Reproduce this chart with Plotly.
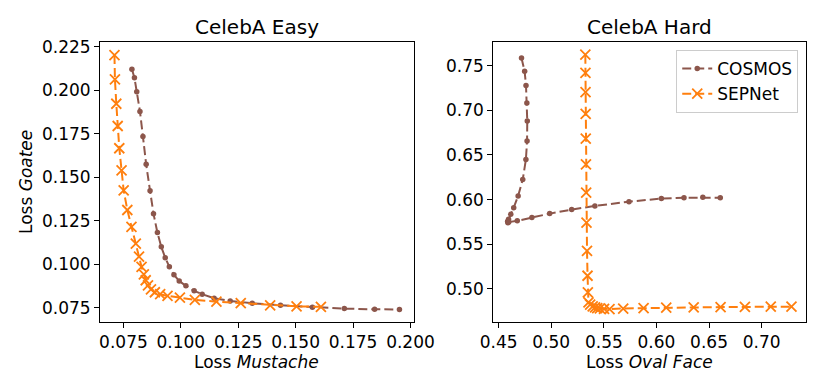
import plotly.graph_objects as go

# ---- data: CelebA Easy ----
easy_sep_x = [0.0711, 0.0713, 0.0719, 0.0725, 0.0732, 0.0742, 0.0751, 0.0767, 0.0785, 0.0804, 0.0818, 0.0829, 0.0839,
              0.0847, 0.0857, 0.0870, 0.0887, 0.0910, 0.0942, 0.0996, 0.1061, 0.1155, 0.1261, 0.1389, 0.1504, 0.1610]
easy_sep_y = [0.2202, 0.2062, 0.1922, 0.1794, 0.1666, 0.1539, 0.1424, 0.1311, 0.1214, 0.1118, 0.1043, 0.0984, 0.0941,
              0.0907, 0.0878, 0.0855, 0.0838, 0.0827, 0.0817, 0.0807, 0.0794, 0.0784, 0.0775, 0.0763, 0.0757, 0.0754]
easy_cos_x = [0.0787, 0.0798, 0.0808, 0.0822, 0.0835, 0.0849, 0.0866, 0.0881, 0.0898, 0.0915, 0.0932, 0.0950, 0.0970,
              0.0993, 0.1022, 0.1058, 0.1093, 0.1145, 0.1215, 0.1311, 0.1434, 0.1573, 0.1712, 0.1844, 0.1952]
easy_cos_y = [0.2120, 0.2072, 0.1991, 0.1878, 0.1733, 0.1574, 0.1421, 0.1290, 0.1181, 0.1099, 0.1037, 0.0984, 0.0938,
              0.0903, 0.0875, 0.0846, 0.0827, 0.0804, 0.0788, 0.0775, 0.0763, 0.0752, 0.0744, 0.0740, 0.0739]

# ---- data: CelebA Hard ----
hard_cos_x = [0.4717, 0.4747, 0.4760, 0.4768, 0.4772, 0.4770, 0.4759, 0.4729, 0.4685, 0.4643, 0.4615, 0.4594, 0.4585,
              0.4588, 0.4596, 0.4677, 0.4816, 0.4985, 0.5194, 0.5415, 0.5739, 0.6047, 0.6262, 0.6441, 0.6607]
hard_cos_y = [0.7586, 0.7437, 0.7277, 0.7083, 0.6879, 0.6655, 0.6450, 0.6226, 0.6041, 0.5910, 0.5835, 0.5780, 0.5754,
              0.5742, 0.5748, 0.5762, 0.5799, 0.5843, 0.5888, 0.5929, 0.5977, 0.6011, 0.6022, 0.6025, 0.6022]
hard_sep_x = [0.5324, 0.5325, 0.5326, 0.5327, 0.5328, 0.5330, 0.5332, 0.5335, 0.5340, 0.5345, 0.5348, 0.5354, 0.5370,
              0.5394, 0.5416, 0.5437, 0.5462, 0.5502, 0.5554, 0.5684, 0.5878, 0.6093, 0.6354, 0.6610, 0.6841, 0.7087, 0.7284]
hard_sep_y = [0.7623, 0.7418, 0.7203, 0.6960, 0.6684, 0.6394, 0.6078, 0.5743, 0.5426, 0.5147, 0.4960, 0.4849, 0.4823,
              0.4804, 0.4793, 0.4785, 0.4782, 0.4776, 0.4774, 0.4780, 0.4785, 0.4790, 0.4793, 0.4796, 0.4798, 0.4800, 0.4800]

titles = ["CelebA Easy", "CelebA Hard"]
series_names = ["COSMOS", "SEPNet"]

BROWN = "#8c564b"
ORANGE = "#ff7f0e"
FONT = "DejaVu Sans"
DASH = "9px,4px"

fig = go.Figure()


def cos_trace(x, y, xa, ya, show):
    return go.Scatter(x=x, y=y, xaxis=xa, yaxis=ya, mode="lines+markers", name=series_names[0],
                      showlegend=show, legendrank=1,
                      line=dict(color=BROWN, width=2, dash=DASH),
                      marker=dict(symbol="circle", size=5.5, color=BROWN))


def sep_trace(x, y, xa, ya, show):
    return go.Scatter(x=x, y=y, xaxis=xa, yaxis=ya, mode="lines+markers", name=series_names[1],
                      showlegend=show, legendrank=2,
                      line=dict(color=ORANGE, width=2, dash=DASH),
                      marker=dict(symbol="x-thin", size=10, color=ORANGE, line=dict(width=1.8, color=ORANGE)))


fig.add_trace(cos_trace(easy_cos_x, easy_cos_y, "x", "y", False))
fig.add_trace(sep_trace(easy_sep_x, easy_sep_y, "x", "y", False))
fig.add_trace(cos_trace(hard_cos_x, hard_cos_y, "x2", "y2", True))
fig.add_trace(sep_trace(hard_sep_x, hard_sep_y, "x2", "y2", True))

axis_common = dict(showgrid=False, zeroline=False, showline=True, mirror=True, linecolor="black", linewidth=1,
                   ticks="outside", ticklen=5, tickwidth=1, tickcolor="black",
                   tickfont=dict(family=FONT, size=17, color="black"))

W, H = 830, 375
ml, mr, mt, mb = 92, 11, 34, 61
pw = W - ml - mr

fig.update_layout(
    width=W, height=H,
    margin=dict(l=ml, r=mr, t=mt, b=mb),
    paper_bgcolor="white", plot_bgcolor="white",
    font=dict(family=FONT, size=17, color="black"),
    xaxis=dict(domain=[0, (415 - ml) / pw], range=[0.0648, 0.2014], tick0=0.075, dtick=0.025,
               tickformat=".3f", anchor="y", **axis_common),
    yaxis=dict(domain=[0, 1], range=[0.0667, 0.2277], tick0=0.075, dtick=0.025,
               tickformat=".3f", anchor="x", **axis_common),
    xaxis2=dict(domain=[(497 - ml) / pw, 1], range=[0.4449, 0.7422], tick0=0.45, dtick=0.05,
                tickformat=".2f", anchor="y2", **axis_common),
    yaxis2=dict(domain=[0, 1], range=[0.4629, 0.7765], tick0=0.5, dtick=0.05,
                tickformat=".2f", anchor="x2", **axis_common),
    legend=dict(x=(811 - ml) / pw, y=1 - (42 - mt) / (H - mt - mb), xanchor="right", yanchor="top",
                bgcolor="rgba(255,255,255,0.8)", bordercolor="#cccccc", borderwidth=1,
                font=dict(family=FONT, size=17, color="black"), tracegroupgap=0),
    annotations=[
        dict(text=titles[0], xref="paper", yref="paper", x=(415 - ml) / pw / 2, y=1, yshift=1,
             xanchor="center", yanchor="bottom", showarrow=False, font=dict(family=FONT, size=20)),
        dict(text=titles[1], xref="paper", yref="paper", x=((497 - ml) / pw + 1) / 2, y=1, yshift=1,
             xanchor="center", yanchor="bottom", showarrow=False, font=dict(family=FONT, size=20)),
        dict(text="Loss <i>Mustache</i>", xref="paper", yref="paper", x=(415 - ml) / pw / 2, y=0, yshift=-28,
             xanchor="center", yanchor="top", showarrow=False, font=dict(family=FONT, size=17)),
        dict(text="Loss <i>Oval Face</i>", xref="paper", yref="paper", x=((497 - ml) / pw + 1) / 2, y=0, yshift=-28,
             xanchor="center", yanchor="top", showarrow=False, font=dict(family=FONT, size=17)),
        dict(text="Loss <i>Goatee</i>", xref="paper", yref="paper", x=0, xshift=-(ml - 18), y=0.5,
             xanchor="center", yanchor="middle", textangle=-90, showarrow=False, font=dict(family=FONT, size=17)),
    ],
)

fig.write_html("out.html")
